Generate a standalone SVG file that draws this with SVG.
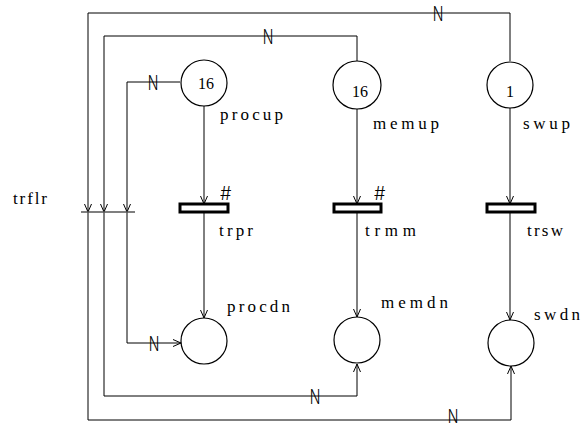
<svg xmlns="http://www.w3.org/2000/svg" width="582" height="427" viewBox="0 0 582 427">
<style>
.pl{fill:#fff;stroke:#000;stroke-width:1.2}
.tr{fill:#fff;stroke:#000;stroke-width:3}
.c{fill:none;stroke:#000;stroke-width:1}
.lb{font-family:"Liberation Serif",serif;font-size:17px;fill:#000}
.tk{font-family:"Liberation Serif",serif;font-size:16px;fill:#000;text-anchor:middle}
.n{font-family:Inter,"Liberation Sans",sans-serif;font-weight:300;font-size:20px;fill:#000;text-anchor:middle;dominant-baseline:central;opacity:0.99}
.h{font-family:Inter,"Liberation Sans",sans-serif;font-weight:300;font-size:18px;fill:#000;opacity:0.99}
</style>
<defs>
<marker id="ar" markerUnits="userSpaceOnUse" markerWidth="12" markerHeight="10" refX="9" refY="4" orient="auto">
<path d="M1,0.5 L9,4 L1,7.5" fill="none" stroke="#000" stroke-width="1"/>
</marker>
</defs>
<rect width="582" height="427" fill="#fff"/>
<g id="connectors">
<path class="c" d="M510,61 V13 H88 V212" marker-end="url(#ar)"/>
<path class="c" d="M88,212 V420 H511 V366" marker-end="url(#ar)"/>
<path class="c" d="M357,61 V36 H104 V212" marker-end="url(#ar)"/>
<path class="c" d="M104,212 V396 H357 V364" marker-end="url(#ar)"/>
<path class="c" d="M180,82 H127 V212" marker-end="url(#ar)"/>
<path class="c" d="M127,212 V343 H181" marker-end="url(#ar)"/>
<path class="c" d="M204,106 V204" marker-end="url(#ar)"/>
<path class="c" d="M204,212 V318" marker-end="url(#ar)"/>
<path class="c" d="M357,109 V204" marker-end="url(#ar)"/>
<path class="c" d="M357,212 V317" marker-end="url(#ar)"/>
<path class="c" d="M510,108 V204" marker-end="url(#ar)"/>
<path class="c" d="M510,212 V320" marker-end="url(#ar)"/>
<text class="n" transform="translate(438,13) scale(0.7,1)">N</text>
<text class="n" transform="translate(268,36) scale(0.7,1)">N</text>
<text class="n" transform="translate(153,82) scale(0.7,1)">N</text>
<text class="n" transform="translate(154,343) scale(0.7,1)">N</text>
<text class="n" transform="translate(315,396) scale(0.7,1)">N</text>
<text class="n" transform="translate(453,416) scale(0.7,0.9)">N</text>
</g>
<g id="procup">
<circle class="pl" cx="204" cy="83" r="23"/>
<text class="tk" x="206" y="89">16</text>
<text class="lb" x="220" y="120" textLength="63" lengthAdjust="spacing">procup</text>
</g>
<g id="memup">
<circle class="pl" cx="357" cy="85" r="24"/>
<text class="tk" x="360" y="97">16</text>
<text class="lb" x="373" y="129" textLength="66" lengthAdjust="spacing">memup</text>
</g>
<g id="swup">
<circle class="pl" cx="510" cy="85" r="23"/>
<text class="tk" x="510" y="97">1</text>
<text class="lb" x="523" y="129" textLength="47" lengthAdjust="spacing">swup</text>
</g>
<g id="trflr">
<line x1="81" y1="212" x2="135" y2="212" stroke="#555" stroke-width="1.3"/>
<text class="lb" x="13" y="204" textLength="34" lengthAdjust="spacing">trflr</text>
</g>
<g id="trpr">
<rect class="tr" x="180" y="204" width="48" height="8"/>
<text class="h" x="220" y="200">#</text>
<text class="lb" x="219" y="236" textLength="34" lengthAdjust="spacing">trpr</text>
</g>
<g id="trmm">
<rect class="tr" x="334" y="204" width="47" height="8"/>
<text class="h" x="374" y="200">#</text>
<text class="lb" x="365" y="236" textLength="51" lengthAdjust="spacing">trmm</text>
</g>
<g id="trsw">
<rect class="tr" x="487" y="204" width="48" height="8"/>
<text class="lb" x="527" y="236" textLength="36" lengthAdjust="spacing">trsw</text>
</g>
<g id="procdn">
<circle class="pl" cx="204" cy="341" r="23"/>
<text class="lb" x="227" y="312" textLength="63" lengthAdjust="spacing">procdn</text>
</g>
<g id="memdn">
<circle class="pl" cx="357" cy="340" r="23"/>
<text class="lb" x="381" y="308" textLength="67" lengthAdjust="spacing">memdn</text>
</g>
<g id="swdn">
<circle class="pl" cx="511" cy="343" r="23"/>
<text class="lb" x="534" y="320" textLength="46" lengthAdjust="spacing">swdn</text>
</g>
</svg>
